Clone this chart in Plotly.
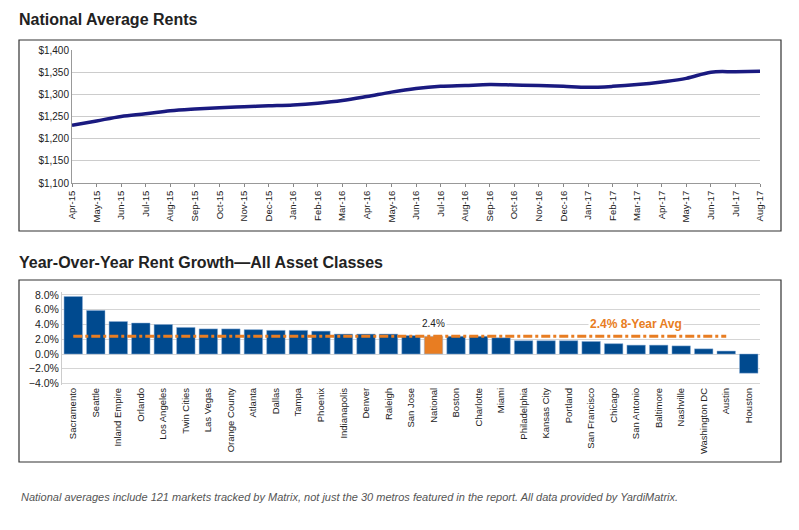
import plotly.graph_objects as go

months = ["Apr-15","May-15","Jun-15","Jul-15","Aug-15","Sep-15","Oct-15","Nov-15","Dec-15","Jan-16","Feb-16","Mar-16","Apr-16","May-16","Jun-16","Jul-16","Aug-16","Sep-16","Oct-16","Nov-16","Dec-16","Jan-17","Feb-17","Mar-17","Apr-17","May-17","Jun-17","Jul-17","Aug-17"]
rents = [1230,1240,1250,1256,1263,1267,1270,1272,1274,1276,1280,1286,1295,1305,1313,1318,1320,1322,1321,1320,1318,1316,1318,1322,1328,1336,1350,1351,1352]

metros = ["Sacramento","Seattle","Inland Empire","Orlando","Los Angeles","Twin Cities","Las Vegas","Orange County","Atlanta","Dallas","Tampa","Phoenix","Indianapolis","Denver","Raleigh","San Jose","National","Boston","Charlotte","Miami","Philadelphia","Kansas City","Portland","San Francisco","Chicago","San Antonio","Baltimore","Nashville","Washington DC","Austin","Houston"]
growth = [7.8,5.9,4.4,4.2,4.0,3.6,3.4,3.4,3.3,3.2,3.2,3.1,2.7,2.7,2.7,2.5,2.4,2.4,2.4,2.2,1.8,1.8,1.8,1.7,1.4,1.2,1.2,1.1,0.7,0.4,-2.6]
avg8 = 2.4

W, H = 799, 530
OFF = 8  # page body margin
def py(p): return 1 - (p - OFF) / H
def px(p): return (p - OFF) / W

blue = "#004a8f"
orange = "#e87d22"
colors = [orange if m == "National" else blue for m in metros]

fig = go.Figure()
fig.add_trace(go.Scatter(x=months, y=rents, mode="lines", line=dict(color="#1a1a80", width=3.5, shape="spline"),
                         xaxis="x", yaxis="y", showlegend=False))
fig.add_trace(go.Bar(x=metros, y=growth, marker=dict(color=colors, line=dict(color="#8fb0d8", width=0.5)),
                     width=0.82, xaxis="x2", yaxis="y2", showlegend=False))
fig.add_trace(go.Scatter(x=[metros[0], metros[-2]], y=[avg8, avg8], mode="lines",
                         line=dict(color=orange, width=3, dash="dashdot"), xaxis="x2", yaxis="y2", showlegend=False))

tick = dict(family="Liberation Sans, Arial", size=9.5, color="#222")
fig.update_layout(
    width=W, height=H, margin=dict(l=0, r=0, t=0, b=0, autoexpand=False),
    plot_bgcolor="white", paper_bgcolor="white", bargap=0.18,
    xaxis=dict(domain=[px(72), px(760)], tickangle=-90, tickfont=tick, showgrid=False, automargin=False,
               ticks="outside", ticklen=3, tickcolor="#888", linecolor="#999", anchor="y"),
    yaxis=dict(domain=[py(183), py(50)], range=[1100, 1400], dtick=50, tickformat="$,.0f", automargin=False,
               tickfont=dict(family="Liberation Sans, Arial", size=10, color="#222"),
               gridcolor="#ccc", linecolor="#999", showline=True, anchor="x"),
    xaxis2=dict(domain=[px(62), px(760)], tickangle=-90, tickfont=tick, showgrid=False, automargin=False,
                anchor="y2", ticks=""),
    yaxis2=dict(domain=[py(385), py(292)], range=[-4.2, 8.4], dtick=2, tickformat=".1f", ticksuffix="%",
                tickfont=dict(family="Liberation Sans, Arial", size=10.5, color="#222"), automargin=False,
                gridcolor="#d5d5d5", zeroline=False, showline=True, linecolor="#ccc", anchor="x2"),
    font=dict(family="Liberation Sans, Arial"),
    shapes=[
        dict(type="rect", xref="paper", yref="paper", x0=px(19), x1=px(781), y0=py(231), y1=py(40),
             line=dict(color="#333", width=1.2)),
        dict(type="rect", xref="paper", yref="paper", x0=px(19), x1=px(781), y0=py(462), y1=py(280),
             line=dict(color="#333", width=1.2)),
    ],
    annotations=[
        dict(text="<b>National Average Rents</b>", xref="paper", yref="paper", x=px(17), y=py(20),
             xanchor="left", yanchor="middle", showarrow=False, font=dict(size=16, color="#222")),
        dict(text="<b>Year-Over-Year Rent Growth—All Asset Classes</b>", xref="paper", yref="paper",
             x=px(17), y=py(262), xanchor="left", yanchor="middle", showarrow=False, font=dict(size=16, color="#222")),
        dict(text="<i>National averages include 121 markets tracked by Matrix, not just the 30 metros featured in the report. All data provided by YardiMatrix.</i>",
             xref="paper", yref="paper", x=px(19), y=py(497), xanchor="left", yanchor="middle", showarrow=False,
             font=dict(size=11, color="#555", family="Liberation Sans, Arial")),
        dict(text="2.4%", x="National", y=4.1, xref="x2", yref="y2", showarrow=False,
             font=dict(size=10, color="#222"), bgcolor="white"),
        dict(text="<b>2.4% 8-Year Avg</b>", x="San Antonio", y=4.0, xref="x2", yref="y2", showarrow=False,
             font=dict(size=12, color=orange), bgcolor="white"),
    ],
)
fig.write_html("out.html")
